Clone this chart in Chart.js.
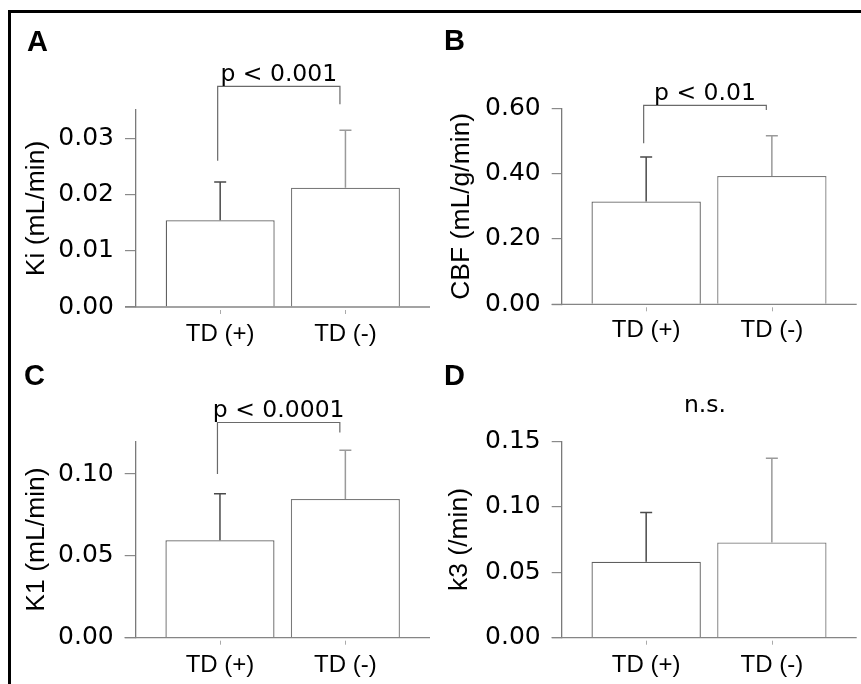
<!DOCTYPE html>
<html><head><meta charset="utf-8">
<script src="https://cdn.jsdelivr.net/npm/chart.js@4.4.1/dist/chart.umd.min.js"></script>
<style>
html,body{margin:0;padding:0;background:#fff;}
body{width:861px;height:684px;position:relative;overflow:hidden;}
canvas{position:absolute;}
#frame{position:absolute;left:8px;top:10px;width:900px;height:700px;border-left:3px solid #000;border-top:3px solid #000;box-sizing:border-box;}
</style></head><body>
<div id="frame"></div>
<canvas id="cA" width="433" height="360" style="left:0;top:0"></canvas>
<canvas id="cB" width="431" height="360" style="left:430px;top:0"></canvas>
<canvas id="cC" width="433" height="342" style="left:0;top:342px"></canvas>
<canvas id="cD" width="431" height="342" style="left:430px;top:342px"></canvas>
<script>
// ---- data ----
const categories = ['TD (+)', 'TD (-)'];
const kiMean = [0.0154, 0.0212];
const kiSD = [0.0068, 0.0102];
const cbfMean = [0.315, 0.393];
const cbfSD = [0.136, 0.123];
const k1Mean = [0.0596, 0.0848];
const k1SD = [0.0284, 0.0298];
const k3Mean = [0.058, 0.0728];
const k3SD = [0.0377, 0.0642];
const kiTicks = [0, 0.01, 0.02, 0.03];
const cbfTicks = [0, 0.2, 0.4, 0.6];
const k1Ticks = [0, 0.05, 0.1];
const k3Ticks = [0, 0.05, 0.1, 0.15];
const yTitles = ['Ki (mL/min)', 'CBF (mL/g/min)', 'K1 (mL/min)', 'k3 (/min)'];
const panelLetters = ['A', 'B', 'C', 'D'];
const sigLabels = ['p < 0.001', 'p < 0.01', 'p < 0.0001', 'n.s.'];
// significance brackets in data units: [left leg end, right leg end, bracket level]
const kiBracket = [0.026, 0.036, 0.0392];
const cbfBracket = [0.493, 0.595, 0.609];
const k1Bracket = [0.1, 0.1254, 0.1315];
const k3Bracket = [null, null, 0.168];
const bracketX = [0.98, 1.956];

Chart.defaults.color = '#000';
const barBorders = ['#5f5f5f', '#7a7a7a'];
const errColors = ['#4a4a4a', '#9a9a9a'];

function decor(cfg) {
  return {
    id: 'decor' + cfg.letter,
    afterDatasetsDraw(chart) {
      const ctx = chart.ctx, xs = chart.scales.x, ys = chart.scales.y, ca = chart.chartArea;
      ctx.save();
      // x axis line (extends left by tick length)
      ctx.strokeStyle = '#858585'; ctx.lineWidth = 1.3;
      ctx.beginPath(); ctx.moveTo(ca.left - cfg.tick, ca.bottom); ctx.lineTo(ca.right, ca.bottom); ctx.stroke();
      // x tick marks
      ctx.strokeStyle = '#aaa'; ctx.lineWidth = 1;
      categories.forEach((c, i) => {
        const x = Math.round(xs.getPixelForValue(i + 1)) + 0.5;
        ctx.beginPath(); ctx.moveTo(x, ca.bottom + 3); ctx.lineTo(x, ca.bottom + 7); ctx.stroke();
      });
      // error bars (upper only)
      cfg.mean.forEach((m, i) => {
        const x = xs.getPixelForValue(i + 1);
        const y0 = ys.getPixelForValue(m), y1 = ys.getPixelForValue(m + cfg.sd[i]);
        ctx.strokeStyle = errColors[i]; ctx.lineWidth = 1.5;
        ctx.beginPath(); ctx.moveTo(x, y0); ctx.lineTo(x, y1);
        ctx.moveTo(x - 6, y1); ctx.lineTo(x + 6, y1); ctx.stroke();
      });
      // significance bracket
      const b = cfg.bracket;
      const xl = xs.getPixelForValue(bracketX[0]), xr = xs.getPixelForValue(bracketX[1]);
      const yt = ys.getPixelForValue(b[2]);
      if (b[0] !== null) {
        ctx.strokeStyle = '#6a6a6a'; ctx.lineWidth = 1.2;
        ctx.beginPath();
        ctx.moveTo(xl, ys.getPixelForValue(b[0])); ctx.lineTo(xl, yt);
        ctx.lineTo(xr, yt); ctx.lineTo(xr, ys.getPixelForValue(b[1]));
        ctx.stroke();
      }
      ctx.fillStyle = '#000';
      ctx.font = '23.5px "DejaVu Sans"';
      ctx.textAlign = 'center'; ctx.textBaseline = 'alphabetic';
      ctx.fillText(cfg.sig, (xl + xr) / 2, yt - 5.5);
      // panel letter
      ctx.font = 'bold 29px "Liberation Sans"';
      ctx.textAlign = 'left';
      ctx.fillText(cfg.letter, cfg.lx, cfg.ly);
      ctx.restore();
    }
  };
}

function makeChart(id, cfg) {
  return new Chart(document.getElementById(id), {
    type: 'bar',
    data: {
      datasets: [{
        data: categories.map((c, i) => ({ x: i + 1, y: cfg.mean[i] })),
        backgroundColor: '#fff',
        borderColor: barBorders,
        borderWidth: 1.3,
        barPercentage: 0.87,
        categoryPercentage: 1
      }]
    },
    options: {
      responsive: false,
      animation: false,
      devicePixelRatio: 1,
      events: [],
      layout: { padding: cfg.pad },
      plugins: { legend: { display: false }, tooltip: { enabled: false } },
      scales: {
        x: {
          type: 'linear', min: 0.328, max: 2.675, offset: false,
          afterBuildTicks: s => { s.ticks = categories.map((c, i) => ({ value: i + 1 })); },
          afterFit: s => { s.height = 40; },
          grid: { display: false }, border: { display: false },
          ticks: { font: { family: 'Liberation Sans', size: 24 }, color: '#000', padding: cfg.xpad,
                   maxRotation: 0, autoSkip: false, callback: v => categories[Math.round(v) - 1] }
        },
        y: {
          min: 0, max: cfg.max,
          afterBuildTicks: s => { s.ticks = cfg.ticks.map(v => ({ value: v })); },
          afterFit: s => { s.width = cfg.yw; },
          border: { display: true, color: '#7a7a7a', width: 1.3 },
          grid: { display: true, drawOnChartArea: false, drawTicks: true, tickLength: cfg.tick, color: '#8a8a8a', lineWidth: 1.2 },
          ticks: { font: { family: 'DejaVu Sans', size: 25 }, color: '#000', padding: 11,
                   callback: v => v.toFixed(2) },
          title: { display: true, text: cfg.title, color: '#000',
                   font: { family: 'Liberation Sans', size: 26.5, lineHeight: 1 },
                   padding: { top: cfg.tpad, bottom: 0 } }
        }
      }
    },
    plugins: [decor(cfg)]
  });
}

makeChart('cA', { mean: kiMean, sd: kiSD, ticks: kiTicks, max: 0.035, title: yTitles[0], letter: panelLetters[0],
  sig: sigLabels[0], bracket: kiBracket, tick: 11, yw: 136, tpad: 23.3, xpad: 5,
  pad: { left: 0, top: 110, right: 3, bottom: 13 }, lx: 27, ly: 50.5 });
makeChart('cB', { mean: cbfMean, sd: cbfSD, ticks: cbfTicks, max: 0.6, title: yTitles[1], letter: panelLetters[1],
  sig: sigLabels[1], bracket: cbfBracket, tick: 10, yw: 131.7, tpad: 18.3, xpad: 3.5,
  pad: { left: 0, top: 108.3, right: 4.3, bottom: 15.7 }, lx: 14, ly: 50 });
makeChart('cC', { mean: k1Mean, sd: k1SD, ticks: k1Ticks, max: 0.12, title: yTitles[2], letter: panelLetters[2],
  sig: sigLabels[2], bracket: k1Bracket, tick: 11, yw: 135.7, tpad: 23.4, xpad: 5,
  pad: { left: 0, top: 99.3, right: 3, bottom: 6.3 }, lx: 24, ly: 43 });
makeChart('cD', { mean: k3Mean, sd: k3SD, ticks: k3Ticks, max: 0.15, title: yTitles[3], letter: panelLetters[3],
  sig: sigLabels[3], bracket: k3Bracket, tick: 10, yw: 131.7, tpad: 16.8, xpad: 5,
  pad: { left: 0, top: 99.3, right: 4.3, bottom: 6.3 }, lx: 14, ly: 43 });
</script>
</body></html>
